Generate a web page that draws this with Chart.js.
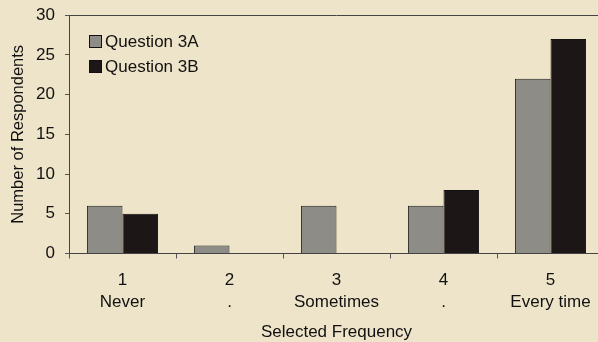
<!DOCTYPE html>
<html><head><meta charset="utf-8">
<script src="https://cdn.jsdelivr.net/npm/chart.js@4"></script>
<style>
html,body{margin:0;padding:0;background:#eee4c9;overflow:hidden;}
#wrap{position:relative;width:610px;height:342px;}
</style></head><body>
<div id="wrap"><canvas id="c"></canvas></div>
<script>
const categories = [["1","Never"],["2","."],["3","Sometimes"],["4","."],["5","Every time"]];
const question3A = [6, 1, 6, 6, 22];
const question3B = [5, 0, 0, 8, 27];
const seriesLabels = ["Question 3A", "Question 3B"];
const yTicks = [0, 5, 10, 15, 20, 25, 30];

const FONT = "'Liberation Sans', Arial, sans-serif";
const colA = '#8e8c87', colB = '#1c1616';

const legendPlugin = {
  id: 'innerLegend',
  afterDraw(chart) {
    const ctx = chart.ctx;
    const x0 = Math.round(chart.chartArea.left) + 20, y0 = Math.round(chart.chartArea.top) + 26;
    ctx.save();
    ctx.font = '17px ' + FONT;
    ctx.textBaseline = 'middle';
    chart.data.datasets.forEach((ds, i) => {
      const y = Math.round(y0 + i * 24.5);
      ctx.fillStyle = ds.backgroundColor;
      ctx.fillRect(x0 + 0.5, y - 6 + 0.5, 12, 12);
      ctx.strokeStyle = '#111';
      ctx.lineWidth = 1;
      ctx.strokeRect(x0 + 0.5, y - 6 + 0.5, 12, 12);
      ctx.fillStyle = '#111';
      ctx.fillText(ds.label, x0 + 16, y + 1);
    });
    ctx.restore();
  }
};

new Chart(document.getElementById('c'), {
  type: 'bar',
  data: {
    labels: categories,
    datasets: [
      { label: seriesLabels[0], data: question3A, backgroundColor: colA, borderColor: '#222', borderWidth: 1 },
      { label: seriesLabels[1], data: question3B, backgroundColor: colB, borderColor: '#111', borderWidth: 1 }
    ]
  },
  options: {
    responsive: true,
    maintainAspectRatio: false,
    animation: false,
    layout: { padding: { left: 0, right: 6, top: 4, bottom: 2 } },
    plugins: { legend: { display: false }, tooltip: { enabled: false } },
    datasets: { bar: { categoryPercentage: 0.665, barPercentage: 1.0 } },
    scales: {
      x: {
        offset: true,
        grid: { offset: true, drawOnChartArea: false, drawTicks: true, tickLength: 5, color: '#555' },
        border: { color: '#444', width: 1 },
        ticks: { color: '#111', font: { family: FONT, size: 17, lineHeight: 1.3 }, padding: 11, maxRotation: 0 },
        title: { display: true, text: 'Selected Frequency', color: '#111', font: { family: FONT, size: 17, lineHeight: 0.9 }, padding: { top: 0, bottom: 0 } }
      },
      y: {
        min: 0, max: 30,
        afterBuildTicks(scale) { scale.ticks = yTicks.map(v => ({ value: v })); },
        afterFit(scale) { scale.width = 69; },
        grid: { drawOnChartArea: false, tickLength: 4, color: '#555' },
        border: { color: '#444', width: 1 },
        ticks: { color: '#111', font: { family: FONT, size: 17, lineHeight: 0.6 }, padding: 10 },
        title: { display: true, text: 'Number of Respondents', color: '#111', font: { family: FONT, size: 16.5, lineHeight: 1.2 }, padding: { top: 9, bottom: 0 } }
      }
    }
  },
  plugins: [legendPlugin, {
    id: 'topBorder',
    afterDraw(chart) {
      const { ctx, chartArea } = chart;
      ctx.save();
      ctx.strokeStyle = '#444';
      ctx.lineWidth = 1;
      ctx.beginPath();
      ctx.moveTo(chartArea.left, Math.round(chartArea.top) + 0.5);
      ctx.lineTo(chartArea.right, Math.round(chartArea.top) + 0.5);
      ctx.stroke();
      ctx.restore();
    }
  }]
});
</script>
</body></html>
